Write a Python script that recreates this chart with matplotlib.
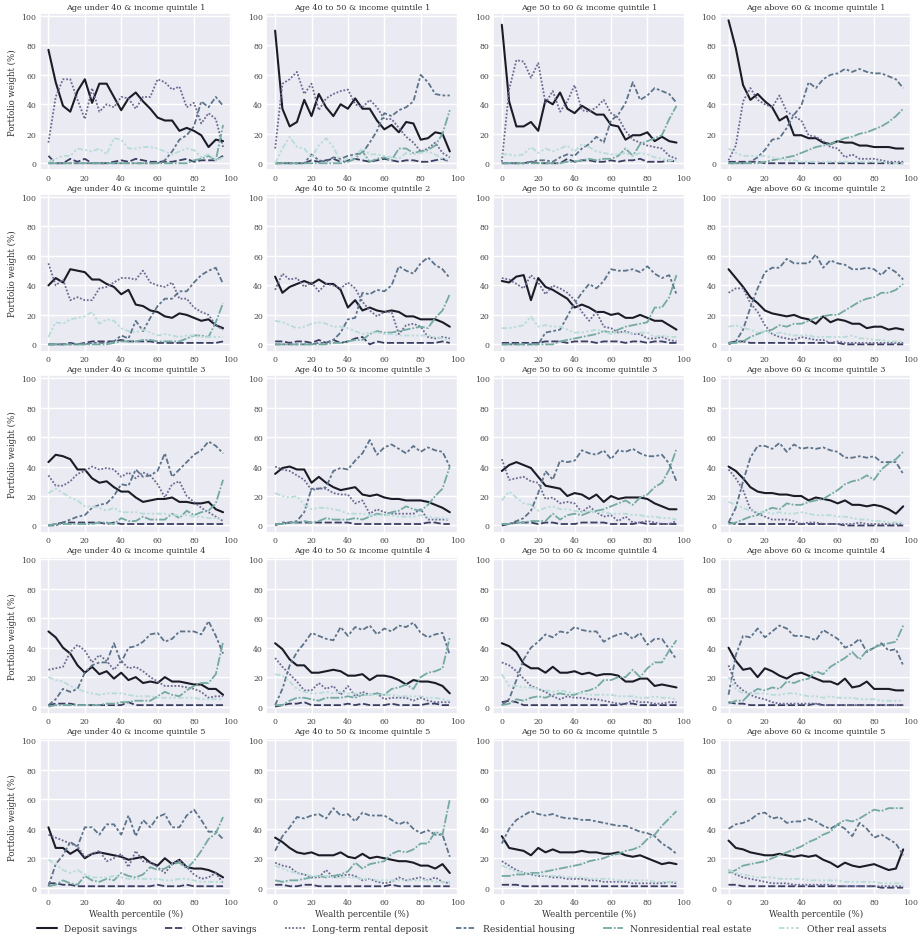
import matplotlib
matplotlib.use("Agg")
import matplotlib.pyplot as plt
import seaborn as sns

# x axis: wealth percentile bins
x_pct = list(range(0, 100, 4))

ages = ["Age under 40", "Age 40 to 50", "Age 50 to 60", "Age above 60"]
quintiles = [1, 2, 3, 4, 5]

labels = ["Deposit savings", "Other savings", "Long-term rental deposit",
          "Residential housing", "Nonresidential real estate", "Other real assets"]

# one row per panel, ordered quintile 1..5, and within each quintile age group 1..4
deposit = [
    [77, 55, 39, 35, 49, 57, 41, 54, 54, 45, 36, 44, 48, 42, 37, 31, 29, 29, 22, 24, 22, 19, 11, 16, 15],
    [90, 37, 25, 28, 43, 32, 47, 38, 32, 40, 37, 44, 37, 37, 29, 23, 26, 21, 28, 27, 16, 17, 21, 20, 8],
    [94, 42, 25, 25, 28, 22, 43, 40, 48, 37, 34, 39, 36, 33, 33, 26, 25, 16, 19, 19, 21, 15, 18, 15, 14],
    [97, 78, 53, 43, 47, 42, 38, 29, 32, 19, 19, 17, 17, 14, 13, 15, 14, 14, 12, 12, 11, 11, 11, 10, 10],
    [40, 45, 42, 51, 50, 49, 44, 44, 41, 39, 34, 37, 27, 26, 23, 22, 19, 18, 21, 20, 18, 16, 17, 13, 11],
    [46, 35, 39, 41, 43, 41, 44, 41, 41, 37, 25, 30, 23, 25, 23, 22, 23, 22, 19, 19, 17, 17, 17, 15, 12],
    [43, 42, 46, 47, 30, 45, 39, 37, 34, 31, 25, 27, 25, 22, 22, 20, 21, 18, 18, 20, 18, 16, 16, 13, 10],
    [51, 45, 39, 32, 28, 23, 21, 20, 19, 20, 18, 17, 14, 19, 15, 17, 16, 14, 14, 11, 12, 12, 10, 11, 10],
    [43, 48, 47, 45, 38, 38, 32, 29, 30, 26, 23, 23, 19, 16, 17, 18, 18, 19, 16, 16, 15, 15, 16, 11, 9],
    [35, 39, 40, 38, 38, 29, 33, 29, 26, 24, 25, 26, 21, 20, 21, 19, 18, 18, 17, 17, 17, 16, 14, 12, 9],
    [37, 41, 43, 41, 39, 33, 27, 26, 25, 20, 22, 21, 18, 21, 16, 20, 18, 19, 19, 19, 18, 15, 13, 11, 11],
    [40, 37, 32, 26, 23, 22, 22, 21, 21, 20, 20, 17, 19, 18, 17, 15, 17, 14, 14, 13, 14, 13, 11, 8, 13],
    [51, 47, 40, 36, 28, 23, 27, 22, 24, 19, 23, 18, 20, 16, 17, 16, 20, 17, 17, 16, 15, 15, 12, 12, 8],
    [43, 39, 32, 28, 28, 23, 23, 24, 25, 24, 21, 21, 22, 18, 21, 21, 20, 18, 15, 18, 17, 17, 16, 14, 9],
    [43, 41, 37, 29, 26, 26, 23, 27, 23, 23, 24, 22, 23, 21, 22, 22, 21, 17, 17, 19, 19, 14, 15, 14, 13],
    [40, 31, 25, 26, 20, 26, 24, 21, 19, 22, 23, 21, 19, 17, 17, 15, 19, 13, 14, 17, 12, 12, 12, 11, 11],
    [41, 27, 27, 23, 26, 20, 23, 24, 23, 22, 21, 19, 20, 21, 17, 15, 20, 16, 19, 14, 13, 13, 12, 10, 7],
    [34, 31, 27, 24, 23, 24, 22, 22, 22, 24, 21, 20, 23, 20, 21, 20, 19, 18, 18, 17, 15, 15, 13, 16, 10],
    [35, 27, 26, 25, 22, 27, 24, 26, 24, 24, 24, 25, 24, 24, 23, 23, 24, 22, 21, 22, 20, 18, 16, 17, 16],
    [32, 27, 26, 24, 23, 22, 22, 23, 22, 21, 22, 21, 22, 19, 17, 14, 17, 15, 14, 15, 16, 14, 12, 13, 26],
]

other_savings = [
    [5, 0, 0, 3, 1, 3, 0, 0, 0, 1, 2, 1, 3, 2, 1, 1, 1, 1, 2, 3, 1, 2, 2, 2, 5],
    [0, 0, 0, 0, 0, 2, 1, 2, 3, 1, 2, 3, 2, 1, 2, 3, 2, 1, 2, 2, 1, 1, 2, 3, 1],
    [0, 0, 0, 0, 1, 0, 0, 0, 0, 3, 1, 2, 2, 1, 1, 2, 1, 2, 2, 3, 1, 1, 1, 2, 1],
    [1, 1, 1, 1, 1, 0, 0, 0, 0, 0, 0, 0, 0, 0, 0, 0, 0, 0, 0, 0, 0, 0, 0, 0, 0],
    [0, 0, 0, 1, 0, 1, 2, 2, 2, 2, 3, 2, 2, 2, 2, 1, 1, 1, 1, 1, 1, 1, 1, 1, 2],
    [2, 2, 1, 2, 2, 1, 3, 1, 3, 1, 2, 4, 5, 0, 2, 1, 1, 1, 1, 1, 1, 1, 1, 2, 1],
    [1, 1, 1, 1, 1, 1, 2, 2, 2, 1, 2, 2, 2, 1, 2, 2, 2, 1, 2, 2, 1, 2, 2, 1, 1],
    [1, 2, 2, 1, 1, 1, 1, 1, 1, 1, 1, 1, 1, 1, 1, 1, 0, 0, 0, 0, 0, 0, 0, 0, 0],
    [0, 1, 2, 2, 2, 2, 2, 2, 1, 2, 1, 1, 1, 1, 1, 1, 1, 1, 1, 1, 1, 1, 1, 1, 1],
    [1, 1, 2, 2, 2, 2, 2, 2, 2, 2, 2, 1, 1, 1, 1, 1, 1, 1, 1, 1, 1, 2, 2, 1, 1],
    [0, 1, 2, 2, 2, 1, 2, 2, 1, 1, 1, 2, 2, 2, 2, 1, 1, 1, 1, 2, 1, 1, 1, 1, 1],
    [2, 1, 1, 1, 1, 1, 1, 1, 1, 1, 1, 1, 1, 1, 1, 1, 0, 0, 0, 0, 0, 0, 0, 0, 0],
    [1, 2, 2, 2, 1, 1, 1, 1, 1, 1, 1, 3, 1, 1, 1, 1, 1, 1, 1, 1, 1, 1, 1, 1, 1],
    [0, 1, 2, 2, 3, 1, 1, 1, 1, 1, 2, 1, 2, 1, 1, 1, 2, 1, 1, 1, 1, 2, 2, 1, 1],
    [3, 4, 3, 1, 1, 1, 1, 1, 1, 1, 1, 1, 1, 1, 1, 1, 1, 2, 2, 1, 1, 1, 1, 1, 1],
    [3, 2, 2, 1, 1, 1, 1, 1, 1, 1, 1, 1, 2, 1, 1, 1, 1, 1, 1, 1, 1, 1, 1, 1, 1],
    [3, 3, 2, 2, 1, 1, 1, 1, 1, 1, 1, 1, 1, 1, 1, 2, 1, 1, 1, 2, 1, 1, 1, 1, 1],
    [2, 2, 1, 1, 2, 2, 1, 1, 1, 1, 1, 1, 1, 1, 1, 1, 2, 1, 1, 1, 1, 1, 1, 1, 1],
    [2, 2, 2, 1, 1, 1, 1, 1, 1, 1, 1, 1, 1, 1, 1, 1, 1, 1, 1, 1, 1, 1, 1, 1, 1],
    [2, 2, 1, 1, 1, 1, 1, 1, 1, 1, 1, 1, 1, 1, 1, 1, 1, 1, 1, 1, 1, 0, 0, 0, 0],
]

rental_deposit = [
    [14, 45, 57, 57, 43, 30, 51, 35, 40, 38, 45, 44, 37, 45, 45, 57, 55, 50, 52, 38, 41, 27, 34, 30, 11],
    [10, 54, 57, 62, 47, 54, 36, 44, 47, 49, 50, 40, 38, 43, 38, 30, 30, 24, 18, 14, 8, 10, 14, 7, 4],
    [1, 50, 70, 69, 58, 68, 41, 49, 35, 42, 53, 36, 35, 38, 43, 34, 31, 22, 16, 14, 12, 11, 10, 5, 3],
    [2, 12, 42, 51, 43, 40, 38, 46, 35, 32, 29, 19, 18, 15, 11, 10, 4, 6, 3, 3, 3, 2, 1, 1, 1],
    [55, 40, 44, 30, 32, 30, 30, 38, 39, 42, 45, 45, 44, 50, 42, 40, 39, 42, 31, 31, 25, 22, 20, 13, 10],
    [37, 48, 44, 45, 39, 42, 36, 41, 40, 38, 42, 38, 29, 23, 19, 22, 22, 7, 13, 14, 12, 5, 4, 5, 4],
    [45, 44, 41, 38, 47, 42, 34, 40, 38, 35, 30, 22, 16, 22, 12, 11, 8, 9, 7, 7, 4, 4, 5, 3, 2],
    [35, 38, 38, 28, 22, 13, 7, 5, 4, 3, 5, 4, 3, 3, 1, 2, 1, 1, 1, 1, 1, 1, 1, 1, 1],
    [34, 27, 27, 30, 35, 37, 40, 38, 39, 38, 33, 36, 32, 36, 34, 28, 19, 28, 30, 20, 16, 12, 9, 6, 3],
    [40, 38, 37, 34, 31, 24, 25, 25, 22, 21, 21, 15, 17, 8, 11, 9, 8, 8, 8, 8, 11, 4, 4, 4, 4],
    [45, 31, 32, 33, 30, 29, 18, 19, 15, 16, 15, 9, 13, 9, 6, 7, 3, 6, 2, 2, 3, 2, 1, 1, 3],
    [38, 32, 24, 11, 8, 6, 4, 4, 4, 3, 1, 2, 2, 1, 1, 1, 1, 1, 2, 1, 1, 1, 1, 1, 1],
    [25, 26, 27, 37, 42, 38, 30, 35, 31, 25, 31, 26, 27, 24, 20, 17, 14, 14, 14, 13, 12, 10, 6, 7, 7],
    [33, 27, 22, 17, 11, 11, 16, 12, 14, 8, 14, 7, 10, 8, 9, 5, 6, 6, 6, 4, 6, 4, 3, 3, 3],
    [30, 28, 24, 19, 14, 12, 10, 7, 5, 7, 6, 6, 5, 5, 4, 3, 2, 2, 4, 3, 3, 2, 2, 3, 3],
    [28, 15, 11, 8, 6, 5, 3, 2, 2, 2, 2, 2, 2, 1, 1, 1, 1, 1, 1, 1, 1, 1, 1, 1, 1],
    [36, 34, 32, 30, 28, 21, 23, 25, 18, 20, 23, 14, 25, 18, 17, 14, 10, 16, 19, 14, 9, 6, 7, 10, 3],
    [17, 15, 14, 10, 9, 7, 7, 12, 7, 8, 9, 8, 5, 6, 4, 3, 4, 7, 5, 6, 7, 5, 7, 4, 3],
    [18, 15, 12, 10, 9, 8, 8, 7, 7, 6, 6, 6, 5, 5, 4, 4, 4, 4, 3, 3, 3, 3, 3, 4, 3],
    [12, 9, 7, 6, 5, 4, 3, 3, 3, 2, 2, 2, 2, 2, 2, 1, 1, 1, 1, 1, 1, 1, 1, 1, 1],
]

residential = [
    [0, 0, 0, 0, 0, 0, 0, 0, 0, 0, 0, 0, 0, 0, 0, 0, 2, 8, 16, 19, 25, 42, 38, 45, 39],
    [0, 0, 0, 0, 0, 6, 2, 1, 4, 3, 5, 6, 7, 14, 22, 34, 32, 36, 38, 42, 60, 55, 47, 46, 46],
    [0, 0, 0, 0, 1, 2, 2, 1, 4, 6, 5, 10, 13, 18, 14, 29, 33, 41, 55, 43, 46, 51, 49, 47, 41],
    [0, 0, 0, 1, 4, 9, 16, 17, 24, 33, 39, 55, 51, 57, 60, 61, 64, 62, 64, 62, 61, 61, 59, 57, 51],
    [0, 0, 0, 0, 0, 0, 1, 1, 1, 2, 6, 4, 16, 9, 18, 26, 31, 31, 36, 36, 42, 47, 50, 52, 41],
    [0, 0, 0, 0, 0, 0, 1, 1, 3, 8, 17, 18, 35, 34, 37, 36, 40, 53, 50, 48, 55, 59, 54, 51, 45],
    [0, 0, 0, 0, 0, 0, 8, 9, 10, 19, 28, 35, 41, 38, 43, 51, 50, 50, 51, 49, 53, 48, 45, 47, 34],
    [0, 2, 10, 25, 38, 49, 52, 52, 58, 55, 55, 55, 61, 52, 57, 55, 54, 51, 51, 52, 51, 47, 52, 49, 44],
    [0, 0, 2, 4, 6, 7, 12, 14, 15, 20, 28, 27, 38, 33, 34, 37, 49, 33, 38, 43, 48, 51, 57, 54, 49],
    [0, 2, 2, 3, 9, 25, 25, 26, 37, 39, 38, 44, 49, 58, 48, 53, 55, 52, 49, 54, 50, 53, 51, 50, 40],
    [1, 1, 3, 5, 10, 22, 37, 31, 44, 43, 44, 51, 49, 48, 51, 45, 51, 50, 52, 49, 47, 47, 48, 42, 30],
    [2, 12, 30, 46, 54, 54, 52, 56, 50, 55, 52, 53, 52, 53, 51, 50, 46, 46, 47, 46, 47, 43, 43, 43, 35],
    [1, 5, 12, 10, 12, 23, 28, 30, 30, 43, 30, 40, 41, 44, 49, 50, 44, 46, 51, 51, 51, 49, 58, 48, 36],
    [1, 12, 28, 37, 43, 50, 48, 46, 45, 54, 48, 54, 52, 55, 49, 53, 51, 55, 54, 57, 50, 47, 49, 50, 35],
    [1, 5, 18, 32, 40, 44, 49, 47, 51, 50, 54, 52, 51, 51, 44, 47, 49, 50, 46, 50, 42, 46, 46, 39, 32],
    [8, 35, 48, 47, 53, 47, 51, 55, 53, 48, 48, 47, 45, 52, 49, 46, 40, 42, 46, 37, 40, 43, 38, 39, 28],
    [1, 16, 22, 31, 28, 41, 41, 36, 43, 43, 36, 49, 35, 46, 41, 48, 50, 41, 41, 49, 53, 46, 38, 38, 33],
    [25, 35, 41, 48, 47, 49, 50, 47, 54, 49, 50, 45, 51, 49, 49, 49, 46, 43, 45, 40, 37, 39, 36, 36, 21],
    [30, 40, 46, 49, 52, 50, 49, 50, 48, 47, 47, 46, 46, 45, 44, 43, 42, 42, 40, 38, 37, 35, 30, 27, 23],
    [40, 43, 44, 46, 50, 51, 47, 48, 44, 45, 45, 47, 45, 42, 40, 43, 40, 35, 44, 40, 34, 36, 33, 30, 22],
]

nonresidential = [
    [0, 0, 0, 0, 0, 0, 0, 0, 0, 0, 0, 0, 0, 0, 0, 0, 0, 0, 0, 0, 2, 3, 5, 2, 26],
    [0, 0, 0, 0, 0, 0, 0, 0, 0, 0, 1, 3, 8, 1, 3, 4, 2, 10, 10, 7, 8, 9, 12, 20, 36],
    [0, 0, 0, 0, 0, 0, 0, 0, 0, 1, 1, 2, 3, 2, 3, 3, 5, 10, 5, 13, 15, 17, 19, 30, 39],
    [0, 0, 0, 0, 0, 1, 2, 3, 4, 5, 7, 9, 11, 12, 13, 15, 17, 18, 20, 21, 23, 25, 28, 32, 37],
    [0, 0, 0, 0, 0, 0, 0, 0, 0, 1, 2, 2, 2, 3, 3, 2, 2, 2, 2, 4, 6, 6, 5, 15, 28],
    [0, 0, 0, 0, 0, 0, 0, 0, 1, 1, 2, 3, 3, 7, 9, 8, 8, 9, 10, 11, 12, 11, 18, 23, 34],
    [0, 0, 0, 0, 0, 0, 0, 0, 2, 3, 4, 5, 6, 7, 9, 8, 10, 12, 13, 14, 15, 25, 25, 32, 47],
    [1, 1, 2, 5, 7, 9, 10, 13, 12, 14, 14, 16, 18, 19, 20, 20, 23, 26, 29, 31, 32, 35, 35, 37, 41],
    [0, 1, 1, 1, 1, 1, 1, 2, 2, 1, 5, 3, 3, 6, 4, 4, 4, 8, 5, 10, 7, 9, 10, 15, 31],
    [1, 1, 2, 2, 3, 2, 3, 5, 4, 4, 4, 5, 4, 6, 8, 7, 9, 10, 13, 11, 10, 14, 20, 25, 40],
    [1, 1, 2, 2, 3, 3, 3, 8, 4, 7, 8, 7, 9, 10, 11, 13, 15, 17, 14, 19, 21, 26, 29, 38, 52],
    [1, 2, 4, 6, 7, 10, 12, 11, 15, 14, 14, 16, 17, 18, 21, 24, 28, 30, 31, 34, 31, 38, 42, 45, 50],
    [0, 1, 1, 1, 1, 1, 1, 1, 2, 2, 3, 3, 4, 4, 4, 7, 10, 8, 7, 11, 14, 16, 16, 22, 44],
    [1, 1, 4, 6, 6, 5, 4, 6, 6, 6, 7, 6, 8, 8, 9, 8, 12, 13, 15, 12, 20, 23, 24, 26, 47],
    [1, 2, 5, 4, 6, 7, 6, 8, 9, 8, 8, 10, 11, 13, 18, 18, 20, 20, 25, 20, 26, 30, 30, 38, 45],
    [2, 4, 4, 9, 12, 11, 13, 12, 17, 16, 18, 19, 24, 22, 27, 30, 33, 37, 32, 38, 40, 42, 43, 44, 55],
    [1, 2, 5, 3, 2, 8, 5, 4, 6, 5, 10, 8, 7, 9, 14, 12, 13, 16, 17, 13, 18, 25, 33, 37, 48],
    [5, 4, 5, 5, 6, 7, 8, 7, 8, 9, 11, 17, 13, 16, 17, 18, 23, 25, 24, 26, 30, 30, 38, 36, 60],
    [8, 8, 9, 9, 10, 10, 11, 12, 13, 14, 15, 16, 18, 19, 20, 22, 23, 25, 26, 28, 33, 36, 42, 47, 52],
    [10, 12, 15, 16, 17, 18, 20, 22, 24, 26, 28, 31, 33, 36, 38, 43, 46, 45, 47, 50, 53, 52, 54, 54, 54],
]

other_real = [
    [1, 3, 5, 5, 10, 9, 8, 10, 6, 17, 16, 10, 10, 11, 11, 10, 8, 6, 8, 10, 9, 4, 6, 2, 4],
    [0, 10, 18, 11, 10, 4, 12, 17, 11, 1, 3, 5, 10, 6, 6, 5, 4, 3, 7, 6, 7, 8, 6, 3, 2],
    [6, 6, 5, 6, 11, 7, 10, 8, 10, 12, 8, 13, 11, 8, 7, 6, 6, 7, 5, 7, 6, 4, 3, 2, 2],
    [10, 7, 5, 5, 5, 5, 4, 3, 2, 2, 1, 1, 1, 1, 1, 1, 1, 1, 1, 1, 1, 1, 0, 0, 0],
    [5, 15, 14, 17, 18, 19, 22, 14, 17, 16, 11, 9, 8, 10, 8, 6, 7, 6, 5, 6, 6, 5, 5, 5, 5],
    [16, 15, 13, 11, 12, 14, 15, 14, 12, 12, 11, 9, 7, 8, 8, 7, 7, 6, 6, 6, 6, 6, 5, 4, 3],
    [11, 11, 12, 13, 19, 12, 13, 12, 12, 10, 8, 8, 9, 10, 9, 7, 8, 8, 7, 8, 8, 5, 6, 5, 5],
    [12, 13, 11, 10, 8, 9, 7, 8, 7, 6, 6, 6, 5, 5, 5, 5, 5, 6, 4, 4, 3, 3, 2, 2, 2],
    [22, 25, 22, 19, 17, 13, 13, 12, 10, 12, 9, 9, 9, 8, 8, 8, 8, 7, 7, 7, 6, 6, 5, 5, 4],
    [22, 20, 19, 20, 14, 11, 12, 12, 11, 10, 8, 8, 8, 7, 7, 7, 7, 6, 6, 6, 7, 6, 5, 5, 4],
    [17, 23, 19, 15, 14, 10, 12, 13, 11, 11, 10, 9, 10, 9, 9, 8, 8, 8, 7, 7, 6, 6, 5, 5, 4],
    [16, 14, 12, 10, 9, 9, 8, 9, 8, 8, 9, 8, 7, 7, 7, 6, 6, 5, 4, 4, 3, 3, 2, 2, 2],
    [20, 18, 17, 14, 12, 10, 9, 8, 9, 9, 9, 8, 7, 7, 7, 6, 6, 6, 6, 6, 6, 5, 5, 5, 5],
    [22, 21, 17, 12, 10, 9, 9, 10, 9, 10, 9, 9, 8, 8, 8, 8, 8, 7, 7, 7, 7, 6, 6, 5, 4],
    [22, 14, 14, 13, 13, 12, 11, 10, 11, 10, 9, 9, 8, 8, 8, 8, 7, 7, 7, 6, 6, 7, 6, 6, 5],
    [20, 12, 9, 9, 9, 9, 8, 8, 9, 9, 8, 7, 7, 6, 7, 6, 6, 6, 5, 5, 5, 4, 4, 4, 4],
    [19, 16, 12, 10, 12, 9, 7, 7, 7, 8, 7, 6, 6, 6, 6, 6, 5, 5, 6, 6, 5, 4, 4, 4, 4],
    [15, 13, 11, 10, 9, 8, 8, 8, 7, 7, 7, 7, 6, 6, 5, 5, 5, 5, 5, 5, 5, 5, 4, 4, 4],
    [15, 13, 11, 10, 9, 9, 8, 8, 8, 7, 7, 7, 6, 6, 6, 6, 5, 5, 5, 5, 5, 4, 4, 4, 4],
    [12, 10, 9, 8, 7, 7, 7, 6, 6, 6, 6, 5, 5, 5, 5, 5, 4, 4, 4, 4, 4, 3, 3, 3, 3],
]

series = [deposit, other_savings, rental_deposit, residential, nonresidential, other_real]

# style
sns.set_theme(style="darkgrid", font="serif")
plt.rcParams['font.family'] = ['DejaVu Serif']

colors = ['#1c1c28', '#3b3e62', '#6b6a92', '#5d7389', '#74aaa2', '#b8ddd8']
dash_list = [None, (4, 1.5), (1, 1), (3, 1.25, 1.5, 1.25), (5, 1, 1, 1),
             (3, 1.25, 1.25, 1.25, 1.25, 1.25)]
widths = [1.5, 1.3, 1.3, 1.3, 1.3, 1.3]

fig, axes = plt.subplots(5, 4, figsize=(9.23, 9.45), dpi=100)
fig.subplots_adjust(left=0.043, right=0.988, top=0.985, bottom=0.052,
                    wspace=0.18, hspace=0.152)

for qi, q in enumerate(quintiles):
    for ai, age in enumerate(ages):
        ax = axes[qi, ai]
        k = qi * 4 + ai
        for s, data in enumerate(series):
            line, = ax.plot(x_pct, data[k], color=colors[s], lw=widths[s], label=labels[s])
            if dash_list[s] is not None:
                line.set_dashes(dash_list[s])
        ax.set_title(f"{age} & income quintile {q}", fontsize=5.9, pad=3, color='#333333')
        ax.set_ylim(-4.85, 101.85)
        ax.set_yticks([0, 20, 40, 60, 80, 100])
        ax.set_xticks([0, 20, 40, 60, 80, 100])
        ax.tick_params(labelsize=5.6, length=0, pad=2.5, labelcolor='#444444')
        if ai == 0:
            ax.set_ylabel("Portfolio weight (%)", fontsize=6.2, labelpad=3, color='#333333')
        if qi == 4:
            ax.set_xlabel("Wealth percentile (%)", fontsize=6.2, labelpad=2, color='#333333')

handles, labs = axes[0, 0].get_legend_handles_labels()
fig.legend(handles, labs, loc='center', bbox_to_anchor=(0.5, 0.016), ncol=6,
           frameon=False, fontsize=6.6, handlelength=2.2, handletextpad=0.8,
           columnspacing=3.0, labelcolor='#333333')

fig.savefig("out.png", dpi=100)
